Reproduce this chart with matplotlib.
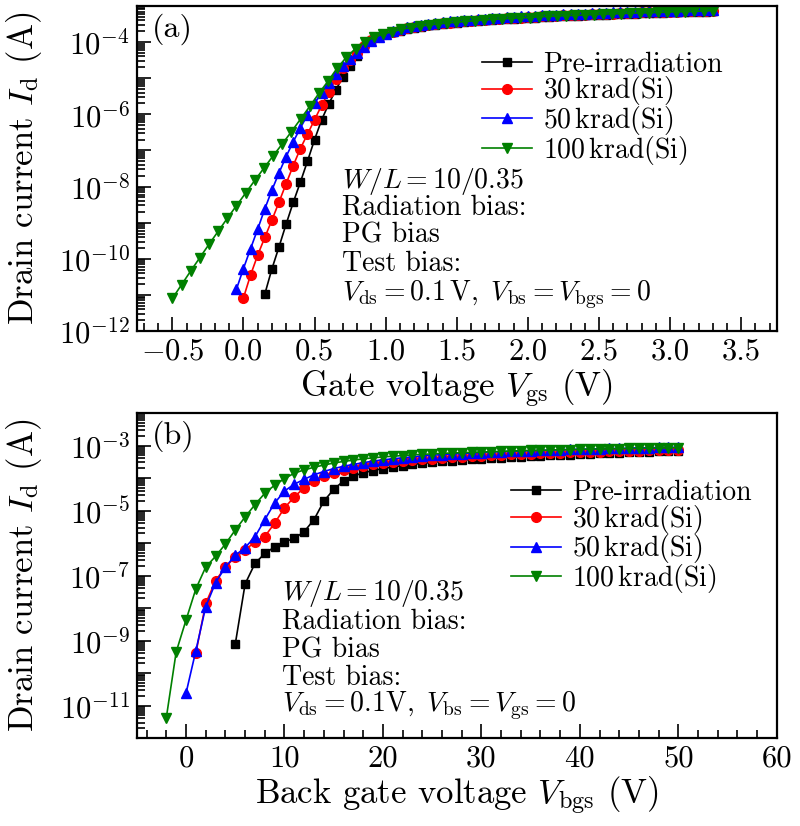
import numpy as np
import matplotlib
matplotlib.use("Agg")
import matplotlib.pyplot as plt
from matplotlib.ticker import LogLocator, FuncFormatter, MultipleLocator, NullFormatter

plt.rcParams["font.family"] = "cmr10"
plt.rcParams["mathtext.fontset"] = "cm"
plt.rcParams["axes.formatter.use_mathtext"] = True
plt.rcParams["axes.unicode_minus"] = True

# ---- panel (a): front gate sweeps, log10(Id) ----
pre_a_v = np.arange(0.15, 3.301, 0.05)
pre_a = [-10.98, -10.28, -9.67, -9.04, -8.44, -7.88, -7.30, -6.70, -6.15, -5.71,
         -5.32, -4.96, -4.65, -4.38,
         -4.15, -3.98, -3.87, -3.79, -3.73, -3.68, -3.64, -3.60, -3.57, -3.54,
         -3.52, -3.50, -3.48, -3.46, -3.44, -3.43, -3.41, -3.40, -3.38, -3.37,
         -3.36, -3.35, -3.34, -3.33, -3.32, -3.31, -3.30, -3.29, -3.28, -3.27,
         -3.27, -3.26, -3.25, -3.24, -3.24, -3.23, -3.22, -3.22, -3.21, -3.20,
         -3.20, -3.19, -3.19, -3.18, -3.18, -3.17, -3.17, -3.16, -3.16, -3.15]
k30_a_v = np.arange(0.0, 3.301, 0.05)
k30_a = [-11.08, -10.45, -9.90, -9.41, -8.93, -8.43, -7.92, -7.42, -6.95, -6.55,
         -6.15, -5.75, -5.38, -5.02, -4.73, -4.50, -4.30,
         -4.10, -3.95, -3.85, -3.77, -3.71, -3.66, -3.62, -3.58, -3.55, -3.52,
         -3.50, -3.48, -3.46, -3.44, -3.42, -3.41, -3.39, -3.38, -3.36, -3.35,
         -3.34, -3.33, -3.32, -3.31, -3.30, -3.29, -3.28, -3.27, -3.26, -3.25,
         -3.25, -3.24, -3.23, -3.22, -3.22, -3.21, -3.20, -3.20, -3.19, -3.18,
         -3.18, -3.17, -3.17, -3.16, -3.16, -3.15, -3.15, -3.14, -3.14, -3.13]
k50_a_v = np.arange(-0.05, 3.301, 0.05)
k50_a = [-10.85, -10.27, -9.72, -9.18, -8.62, -8.10, -7.62, -7.17, -6.76, -6.38,
         -6.02, -5.70, -5.40, -5.13, -4.88, -4.66, -4.47, -4.31,
         -4.13, -3.97, -3.86, -3.77, -3.70, -3.64, -3.59, -3.55, -3.52, -3.49,
         -3.47, -3.45, -3.43, -3.41, -3.39, -3.38, -3.36, -3.35, -3.33, -3.32,
         -3.31, -3.30, -3.29, -3.28, -3.27, -3.26, -3.25, -3.24, -3.23, -3.22,
         -3.22, -3.21, -3.20, -3.19, -3.19, -3.18, -3.17, -3.17, -3.16, -3.15,
         -3.15, -3.14, -3.14, -3.13, -3.13, -3.12, -3.12, -3.11, -3.11, -3.10]
k100_a_v = np.linspace(-0.5, 3.3, 60)
k100_a = [-11.10, -10.72, -10.34, -9.97, -9.60, -9.24, -8.88, -8.53, -8.18, -7.83,
          -7.49, -7.15, -6.82, -6.48, -6.13, -5.78, -5.42, -5.08,
          -4.72, -4.42, -4.18, -4.00, -3.87, -3.78, -3.71, -3.65, -3.60, -3.56,
          -3.53, -3.50, -3.47, -3.45, -3.43, -3.41, -3.39, -3.37, -3.36, -3.34,
          -3.33, -3.32, -3.30, -3.29, -3.28, -3.27, -3.26, -3.25, -3.24, -3.23,
          -3.22, -3.21, -3.20, -3.19, -3.19, -3.18, -3.17, -3.16, -3.16, -3.15,
          -3.14, -3.13]

# ---- panel (b): back gate sweeps, log10(Id) ----
pre_b_v = np.arange(5, 51, 1)
pre_b = [-9.11, -7.26, -6.63, -6.32, -6.12, -5.96, -5.86, -5.65, -5.28, -4.71,
         -4.35, -4.09, -3.94, -3.84, -3.77, -3.71, -3.66, -3.62, -3.58, -3.55,
         -3.52, -3.49, -3.47, -3.45, -3.43, -3.41, -3.39, -3.37, -3.36, -3.34,
         -3.33, -3.31, -3.30, -3.29, -3.28, -3.26, -3.25, -3.24, -3.23, -3.22,
         -3.21, -3.20, -3.19, -3.18, -3.17, -3.16]
k30_b_v = np.arange(1, 51, 1)
k30_b = [-9.38, -7.86, -7.16, -6.74, -6.43, -6.22, -5.96, -5.80, -5.39, -4.92,
         -4.58, -4.30, -4.10, -3.95, -3.84, -3.76, -3.69, -3.63, -3.58, -3.54,
         -3.50, -3.47, -3.44, -3.42, -3.40, -3.38, -3.36, -3.34, -3.33, -3.31,
         -3.30, -3.28, -3.27, -3.26, -3.25, -3.24, -3.23, -3.22, -3.21, -3.20,
         -3.19, -3.19, -3.18, -3.17, -3.16, -3.16, -3.15, -3.14, -3.14, -3.13]
k50_b_v = np.arange(0, 51, 1)
k50_b = [-10.62,
         -9.31, -7.96, -7.22, -6.74, -6.38, -6.14, -5.81, -5.28, -4.77, -4.40,
         -4.19, -4.04, -3.90, -3.80, -3.71, -3.64, -3.58, -3.53, -3.48, -3.44,
         -3.41, -3.38, -3.35, -3.32, -3.30, -3.28, -3.26, -3.25, -3.23, -3.22,
         -3.20, -3.19, -3.18, -3.17, -3.16, -3.15, -3.14, -3.13, -3.12, -3.11,
         -3.11, -3.10, -3.09, -3.09, -3.08, -3.07, -3.07, -3.06, -3.06, -3.05]
k100_b_v = np.arange(-2, 51, 1)
k100_b = [-11.37, -9.35, -8.37,
          -7.41, -6.74, -6.41, -6.03, -5.60, -5.20, -4.82, -4.47, -4.22, -4.02,
          -3.85, -3.75, -3.67, -3.60, -3.54, -3.49, -3.45, -3.41, -3.38, -3.35,
          -3.33, -3.31, -3.29, -3.27, -3.26, -3.24, -3.23, -3.22, -3.21, -3.20,
          -3.19, -3.18, -3.17, -3.16, -3.15, -3.15, -3.14, -3.13, -3.13, -3.12,
          -3.11, -3.11, -3.10, -3.10, -3.09, -3.09, -3.08, -3.08, -3.07, -3.07]

labels = ["Pre-irradiation", r"30$\,$krad(Si)", r"50$\,$krad(Si)", r"100$\,$krad(Si)"]
colors = ["black", "red", "blue", "green"]
markers = ["s", "o", "^", "v"]
msizes = [5.5, 7, 7, 7]

note_a = [r"$W/L=10/0.35$", "Radiation bias:", "PG bias", "Test bias:",
          r"$V_\mathrm{ds}=0.1\,\mathrm{V},\ V_\mathrm{bs}=V_\mathrm{bgs}=0$"]
note_b = [r"$W/L=10/0.35$", "Radiation bias:", "PG bias", "Test bias:",
          r"$V_\mathrm{ds}=0.1\mathrm{V},\ V_\mathrm{bs}=V_\mathrm{gs}=0$"]

TICK_FS, LABEL_FS, NOTE_FS = 22, 25, 20


def style(ax, even):
    ax.set_yscale("log")
    ax.yaxis.set_major_locator(LogLocator(base=10, numticks=30))
    ax.yaxis.set_minor_locator(LogLocator(base=10, subs=np.arange(2, 10), numticks=30))
    ax.yaxis.set_minor_formatter(NullFormatter())
    par = 0 if even else 1
    ax.yaxis.set_major_formatter(FuncFormatter(
        lambda v, p: r"$10^{%d}$" % round(np.log10(v)) if round(np.log10(v)) % 2 == par else ""))
    ax.tick_params(which="both", direction="in", top=False, right=False, labelsize=TICK_FS, width=1.2)
    ax.tick_params(which="major", length=10, pad=5)
    ax.tick_params(which="minor", length=5.5)
    for s in ax.spines.values():
        s.set_linewidth(1.6)
    ax.set_ylabel(r"Drain current $I_\mathrm{d}$ (A)", fontsize=LABEL_FS)
    ax.yaxis.set_label_coords(-0.145, 0.5)


def legend(ax, x, y):
    ax.legend(loc="upper left", bbox_to_anchor=(x, y), frameon=False, fontsize=NOTE_FS,
              borderpad=0, borderaxespad=0, handlelength=1.8, handletextpad=0.42,
              labelspacing=-0.12)


def main():
    fig = plt.figure(figsize=(8, 8.26), dpi=100)
    axA = fig.add_axes([0.171, 0.5993, 0.8, 0.3935])
    axB = fig.add_axes([0.171, 0.1065, 0.8, 0.3935])

    for v, y, lab, c, m, ms in zip([pre_a_v, k30_a_v, k50_a_v, k100_a_v], [pre_a, k30_a, k50_a, k100_a],
                                   labels, colors, markers, msizes):
        axA.plot(v, 10.0 ** np.array(y), color=c, marker=m, ms=ms, lw=1.2, label=lab)
    axA.set_xlim(-0.75, 3.75); axA.set_ylim(1e-12, 1e-3)
    axA.xaxis.set_major_locator(MultipleLocator(0.5)); axA.xaxis.set_minor_locator(MultipleLocator(0.1))
    axA.xaxis.set_major_formatter(FuncFormatter(lambda v, p: (r"$-%.1f$" % -v) if v < -1e-9 else "%.1f" % abs(v)))
    style(axA, True)
    axA.set_xlabel(r"Gate voltage $V_\mathrm{gs}$ (V)", fontsize=LABEL_FS, labelpad=2)
    legend(axA, 0.539, 0.86)
    for t, yb in zip(note_a, [0.441, 0.357, 0.272, 0.186, 0.095]):
        axA.text(0.32, yb, t, transform=axA.transAxes, fontsize=NOTE_FS, va="baseline", ha="left")
    axA.text(0.023, 0.978, "(a)", transform=axA.transAxes, fontsize=23, va="top", ha="left")

    for v, y, lab, c, m, ms in zip([pre_b_v, k30_b_v, k50_b_v, k100_b_v], [pre_b, k30_b, k50_b, k100_b],
                                   labels, colors, markers, msizes):
        axB.plot(v, 10.0 ** np.array(y), color=c, marker=m, ms=ms, lw=1.2, label=lab)
    axB.set_xlim(-5, 60); axB.set_ylim(1e-12, 1e-2)
    axB.xaxis.set_major_locator(MultipleLocator(10)); axB.xaxis.set_minor_locator(MultipleLocator(2))
    axB.xaxis.set_major_formatter(FuncFormatter(lambda v, p: "%d" % round(v)))
    style(axB, False)
    axB.set_xlabel(r"Back gate voltage $V_\mathrm{bgs}$ (V)", fontsize=LABEL_FS, labelpad=2)
    legend(axB, 0.584, 0.795)
    for t, yb in zip(note_b, [0.425, 0.338, 0.249, 0.163, 0.083]):
        axB.text(0.2265, yb, t, transform=axB.transAxes, fontsize=NOTE_FS, va="baseline", ha="left")
    axB.text(0.023, 0.978, "(b)", transform=axB.transAxes, fontsize=23, va="top", ha="left")

    fig.savefig("out.png", dpi=100)


if __name__ == "__main__":
    main()
